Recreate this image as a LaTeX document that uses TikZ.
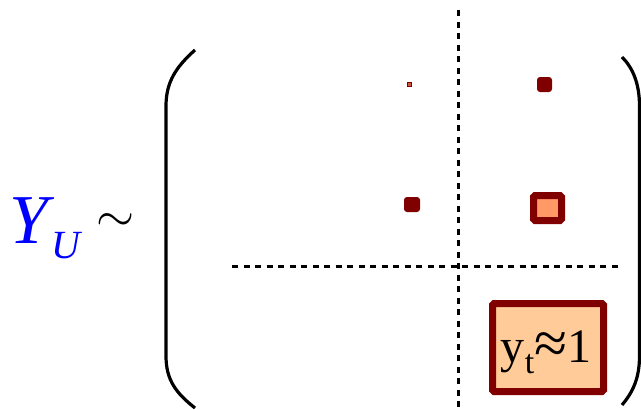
\documentclass[tikz,border=0pt]{standalone}
\usepackage{fontspec}
\setmainfont{Liberation Serif}
\definecolor{maroon}{HTML}{800000}
\definecolor{salmon}{HTML}{FF9966}
\definecolor{peach}{HTML}{FFCC99}
\definecolor{pureblue}{HTML}{0000FF}
\begin{document}
\begin{tikzpicture}[x=1pt,y=-1pt,
  paren/.style={line width=3.2pt},
  divider/.style={line width=3pt,dash pattern=on 6pt off 5.5pt},
  dot/.style={draw=none,fill=maroon,rounded corners=3pt,inner sep=0pt},
  framed/.style={draw=maroon,line width=7pt,rounded corners=1.5pt,inner sep=0pt}]
\useasboundingbox (0,0) rectangle (641,410);

% left-hand side
\node[anchor=base west,inner sep=0pt,text=pureblue,font=\fontsize{70}{72}\selectfont\itshape] (Y) at (9,243) {Y};
\node[anchor=base west,inner sep=0pt,text=pureblue,font=\fontsize{40}{42}\selectfont\itshape] (U) at (51,258) {U};
\node[inner sep=0pt] (sim) at (116,223) {\scalebox{4.9}{$\sim$}};

% brackets
\draw[paren] (195,50) .. controls (176,67) and (166,82) .. (166,106) -- (166,356)
  .. controls (166,380) and (176,393) .. (195,408);
\draw[paren] (622,57) .. controls (633,68) and (639.5,84) .. (639.5,106) -- (639.5,356)
  .. controls (639.5,378) and (633,392) .. (622,405);

% block dividers
\coordinate (vt) at (458,10);
\coordinate (vb) at (458,410);
\coordinate (hl) at (232,266);
\coordinate (hr) at (622,266);
\draw[divider] (vt) -- (vb);
\draw[divider] (hl) -- (hr);

% entries
\node[draw=maroon,fill=salmon!60!maroon,line width=1pt,minimum size=4pt,inner sep=0pt] (e11) at (409.5,84.5) {};
\node[dot,minimum size=15pt] (e12) at (544.5,84.5) {};
\node[dot,minimum width=16pt,minimum height=15pt] (e21) at (412,204.5) {};
\node[framed,fill=salmon,minimum width=28pt,minimum height=25pt] (e22) at (547.5,208) {};
\node[framed,fill=peach,minimum width=111pt,minimum height=88pt] (e33) at (548,347.5) {};
\node[anchor=base,inner sep=0pt,font=\fontsize{48}{48}\selectfont] (yt) at (546,362)
  {y\raisebox{-11pt}{\fontsize{34}{34}\selectfont t}\raisebox{-1pt}{\scalebox{1.25}{≈}}1};
\end{tikzpicture}
\end{document}
